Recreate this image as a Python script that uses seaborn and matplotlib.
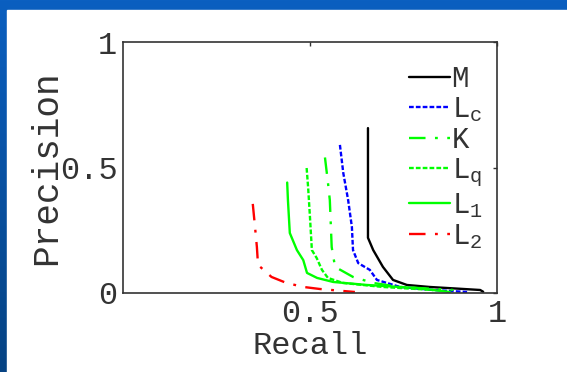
import numpy as np
import matplotlib
matplotlib.use("Agg")
import matplotlib.pyplot as plt
import seaborn as sns
from matplotlib.patches import Rectangle

# precision-recall curves
m_recall = [0.655, 0.655, 0.669, 0.695, 0.722, 0.759, 0.82, 0.866, 0.955, 0.963]
m_prec = [0.657, 0.22, 0.171, 0.104, 0.052, 0.032, 0.024, 0.02, 0.012, 0.005]

lc_recall = [0.58, 0.589, 0.602, 0.612, 0.615, 0.629, 0.66, 0.679, 0.741, 0.829, 0.92]
lc_prec = [0.59, 0.478, 0.37, 0.263, 0.171, 0.119, 0.092, 0.052, 0.024, 0.012, 0.004]

k_recall = [0.54, 0.548, 0.553, 0.558, 0.567, 0.615, 0.669, 0.741, 0.883]
k_prec = [0.54, 0.44, 0.37, 0.183, 0.104, 0.064, 0.04, 0.024, 0.012]

lq_recall = [0.491, 0.495, 0.5, 0.505, 0.518, 0.532, 0.548, 0.588, 0.695, 0.83]
lq_prec = [0.498, 0.42, 0.30, 0.171, 0.139, 0.092, 0.06, 0.04, 0.024, 0.012]

l1_recall = [0.439, 0.441, 0.446, 0.465, 0.482, 0.492, 0.519, 0.562, 0.652, 0.785, 0.874]
l1_prec = [0.44, 0.37, 0.239, 0.171, 0.131, 0.08, 0.06, 0.044, 0.032, 0.02, 0.004]

l2_recall = [0.347, 0.353, 0.358, 0.361, 0.397, 0.437, 0.483, 0.526, 0.62]
l2_prec = [0.355, 0.263, 0.183, 0.112, 0.064, 0.04, 0.024, 0.016, 0.004]

labels = ["M", "L$_\\mathregular{c}$", "K", "L$_\\mathregular{q}$",
          "L$_\\mathregular{1}$", "L$_\\mathregular{2}$"]

sns.set_style("white")
plt.rcParams["font.family"] = ["Liberation Mono", "DejaVu Sans"]
plt.rcParams["mathtext.fontset"] = "custom"
plt.rcParams["mathtext.rm"] = "Liberation Mono"

fig = plt.figure(figsize=(5.67, 3.72), dpi=100)

# slide-like background: blue gradient border, white panel
bg = fig.add_axes([0, 0, 1, 1], zorder=-10)
grad = np.linspace(0, 1, 256).reshape(-1, 1)
cmap = matplotlib.colors.LinearSegmentedColormap.from_list("bg", ["#0b5fc0", "#064383"])
bg.imshow(grad, aspect="auto", cmap=cmap, extent=[0, 1, 0, 1], origin="upper")
bg.add_patch(Rectangle((7 / 567, 0), 1, 1 - 10 / 372, color="white", transform=bg.transAxes))
bg.set_xlim(0, 1)
bg.set_ylim(0, 1)
bg.axis("off")

ax = fig.add_axes([123 / 567, 1 - 293 / 372, 374 / 567, 251 / 372])
ax.set_facecolor("white")

dashdot = (0, (7, 4, 1.2, 4))
dotted = (0, (2, 0.9))
series = [
    (m_recall, m_prec, "black", "-"),
    (lc_recall, lc_prec, "#0000ff", dotted),
    (k_recall, k_prec, "#00ff00", dashdot),
    (lq_recall, lq_prec, "#00ff00", dotted),
    (l1_recall, l1_prec, "#00ff00", "-"),
    (l2_recall, l2_prec, "#ff0000", dashdot),
]
for (x, y, c, ls), lab in zip(series, labels):
    sns.lineplot(x=x, y=y, ax=ax, color=c, linestyle=ls, lw=1.7,
                 sort=False, estimator=None, label=lab)

ax.set_xlim(0, 1)
ax.set_ylim(0, 1)
ax.set_xticks([0.5, 1])
ax.set_xticklabels(["0.5", "1"])
ax.set_yticks([0, 0.5, 1])
ax.set_yticklabels(["0", "0.5", "1"])
ax.tick_params(direction="in", length=3, width=1, labelsize=23, pad=4,
               top=True, right=True, colors="#333333")
ax.tick_params(labelcolor="#333333")
for s in ax.spines.values():
    s.set_visible(True)
    s.set_color("#333333")
    s.set_linewidth(1.2)
ax.set_xlabel("Recall", fontsize=23, color="#333333", labelpad=2)
ax.set_ylabel("Precision", fontsize=26, color="#333333", labelpad=-3)

leg = ax.legend(loc="upper right", frameon=False, fontsize=21, handlelength=1.4,
                handletextpad=0.05, labelspacing=0.07, borderaxespad=0.1,
                bbox_to_anchor=(1.0, 0.965))
for t in leg.get_texts():
    t.set_color("#333333")

fig.savefig("out.png", dpi=100)
